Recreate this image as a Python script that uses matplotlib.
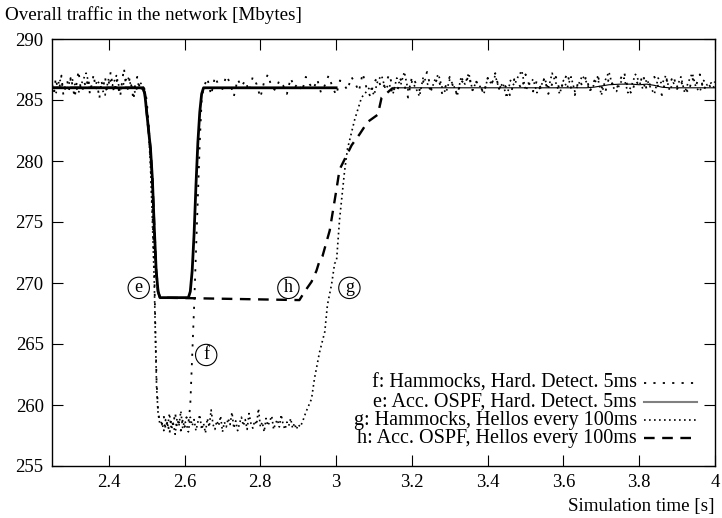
import numpy as np
import matplotlib
matplotlib.use("Agg")
import matplotlib.pyplot as plt
from matplotlib.lines import Line2D

plt.rcParams['font.family'] = ['Liberation Serif', 'DejaVu Serif']

# ---------------- data ----------------
x_ticks = [2.4, 2.6, 2.8, 3.0, 3.2, 3.4, 3.6, 3.8, 4.0]
x_tick_labels = ["2.4", "2.6", "2.8", "3", "3.2", "3.4", "3.6", "3.8", "4"]
y_ticks = [255, 260, 265, 270, 275, 280, 285, 290]

legend_labels = ["f: Hammocks, Hard. Detect. 5ms",
                 "e: Acc. OSPF, Hard. Detect. 5ms",
                 "g: Hammocks, Hellos every 100ms",
                 "h: Acc. OSPF, Hellos every 100ms"]

# e: Acc. OSPF, hard detect (smooth)
e_x = [2.25, 2.49, 2.495, 2.5, 2.505, 2.51, 2.515, 2.52, 2.525, 2.53, 2.535,
       2.61, 2.615, 2.62, 2.625, 2.63, 2.635, 2.64, 2.645, 2.65, 3.0]
e_y = [286.0, 286.0, 285.5, 284.0, 282.5, 281.0, 278.5, 274.5, 271.0, 269.3, 268.8,
       268.8, 269.3, 271.0, 274.0, 278.0, 281.5, 284.0, 285.5, 286.0, 286.0]

# h: Acc. OSPF, hellos
h_x = [2.25, 2.49, 2.495, 2.5, 2.505, 2.51, 2.515, 2.52, 2.525, 2.53, 2.535,
       2.903, 2.917, 2.935, 2.948, 2.956, 2.964, 2.983, 3.001, 3.009, 3.041,
       3.062, 3.083, 3.11, 3.12, 3.15]
h_y = [286.0, 286.0, 285.5, 284.0, 282.5, 281.0, 278.5, 274.5, 271.0, 269.3, 268.8,
       268.6, 269.3, 270.1, 271.0, 271.8, 272.2, 274.3, 277.7, 279.3, 281.3,
       282.2, 283.2, 283.8, 285.2, 286.0]
h_tail_x = [3.15, 3.66, 3.68, 3.70, 3.72, 3.75, 3.78, 3.80, 3.82, 3.84, 3.86, 3.88, 4.0]
h_tail_y = [286.0, 286.0, 286.05, 286.15, 286.25, 286.3, 286.3, 286.25, 286.3, 286.2, 286.05, 286.0, 286.0]

# f: Hammocks, hard detect (noisy)
f_pre_start, f_pre_step = 2.25, 0.005
f_pre = [286.3, 285.6, 286.8, 285.9, 286.1, 287.0, 285.4, 286.2, 286.6, 285.8,
         286.9, 286.0, 285.2, 286.4, 287.4, 286.1, 285.7, 286.5, 286.0, 286.8,
         285.5, 286.3, 287.1, 285.9, 286.2, 285.1, 286.6, 286.0, 286.9, 285.8,
         286.4, 287.3, 286.1, 285.6, 286.7, 286.0, 285.3, 286.5, 287.6, 286.2,
         285.9, 286.8, 286.1, 285.0, 286.4, 286.9, 286.2, 285.7, 286.3]
f_drop_x = [2.495, 2.5, 2.505, 2.51, 2.515, 2.52, 2.523, 2.526, 2.53, 2.535]
f_drop_y = [285.8, 285.0, 283.0, 280.0, 276.0, 271.0, 266.0, 262.0, 259.5, 258.5]
f_floor_start, f_floor_step = 2.54, 0.005
f_floor = [258.4, 259.1, 258.0, 258.7, 257.6, 258.9, 258.3, 259.4, 258.1, 258.6,
           257.9, 258.8, 258.2, 259.0, 258.5]
f_rise_x = [2.615, 2.62, 2.625, 2.63, 2.635, 2.64, 2.645]
f_rise_y = [260.0, 264.0, 268.0, 272.5, 277.0, 281.5, 285.0]
f_post_start, f_post_step = 2.65, 0.01
f_post = [286.0, 286.8, 285.4, 286.9, 286.2, 285.9, 287.0, 286.4, 285.3, 286.7,
          286.1, 286.6, 285.7, 286.9, 286.3, 285.2, 286.5, 287.1, 286.0, 285.8,
          286.6, 286.2, 285.5, 286.8, 286.0, 286.4, 285.7, 286.9, 286.3, 285.9,
          286.7, 285.6, 286.2, 287.0, 286.1, 285.4, 286.6, 286.3, 285.8, 286.9,
          286.4, 285.7, 287.2, 286.0, 285.3, 286.5, 286.8, 285.9, 286.3, 287.1,
          286.0, 285.6, 286.7, 286.2, 285.2, 286.9, 286.4, 285.8, 286.5, 287.3,
          285.9, 286.4, 286.8, 285.5, 286.2, 286.9, 286.0, 285.4, 286.6, 286.3,
          287.0, 285.8, 286.5, 286.1, 285.6, 286.8, 286.3, 287.2, 285.9, 286.4,
          286.0, 285.3, 286.7, 286.4, 285.9, 287.1, 286.2, 285.7, 286.6, 286.0,
          286.8, 285.5, 286.3, 286.9, 285.8, 286.4, 287.2, 286.0, 285.4, 286.6,
          286.2, 286.9, 285.7, 286.5, 287.0, 286.1, 285.6, 286.8, 286.3, 285.9,
          286.7, 287.3, 286.0, 285.5, 286.6, 286.2, 287.1, 285.8, 286.4, 286.9,
          286.1, 285.4, 286.7, 286.3, 287.0, 285.9, 286.5, 286.0, 285.6, 286.8,
          286.2, 287.1, 285.8, 286.4, 286.0, 286.5]

# g: Hammocks, hellos (noisy)
g_pre_start, g_pre_step = 2.25, 0.01
g_pre = [286.2, 285.5, 286.7, 286.0, 285.8, 286.9, 286.3, 285.6, 286.5, 287.2,
         286.1, 285.9, 286.6, 286.0, 285.4, 286.8, 286.2, 287.0, 285.7, 286.4,
         286.9, 286.1, 285.6, 286.5, 286.2]
g_drop_x = [2.495, 2.5, 2.505, 2.51, 2.515, 2.52, 2.523, 2.526, 2.53, 2.535]
g_drop_y = [285.6, 284.5, 282.5, 279.5, 275.0, 270.0, 265.5, 261.5, 259.3, 258.4]
g_floor_start, g_floor_step = 2.54, 0.005
g_floor = [258.6, 257.9, 258.8, 258.2, 259.3, 258.0, 258.5, 257.6, 258.9, 258.3,
           259.5, 258.1, 258.7, 258.4, 257.8, 259.0, 258.3, 258.8, 257.9, 258.6,
           259.2, 258.0, 258.5, 257.7, 258.9, 258.2, 259.6, 258.4, 258.0, 258.7,
           258.3, 259.1, 257.8, 258.6, 258.2, 258.9, 258.4, 259.4, 258.1, 258.7,
           257.9, 258.5, 259.0, 258.3, 258.8, 258.0, 259.3, 258.5, 258.1, 258.7,
           258.4, 259.7, 258.2, 258.6, 257.8, 258.9, 258.3, 258.7, 259.1, 258.0,
           258.5, 258.8, 258.2, 259.2, 258.4, 258.0, 258.6, 258.3, 258.9, 258.1,
           258.5, 258.0, 258.4, 258.2]
g_rise_x = [2.911, 2.92, 2.935, 2.943, 2.956, 2.97, 2.977, 2.988, 2.996, 3.001,
            3.009, 3.022, 3.03, 3.049, 3.067, 3.083]
g_rise_y = [258.6, 259.4, 260.5, 262.2, 264.3, 266.0, 268.2, 269.9, 271.6, 271.8,
            275.2, 279.1, 281.0, 283.4, 285.2, 285.8]
g_post_start, g_post_step = 3.09, 0.01
g_post = [286.1, 285.4, 286.6, 287.0, 285.9, 286.3, 285.5, 286.8, 286.2, 287.3,
          285.8, 286.5, 286.0, 285.3, 286.9, 286.4, 285.7, 286.6, 287.1, 286.0,
          285.6, 286.7, 286.2, 285.4, 286.9, 286.3, 287.2, 285.8, 286.5, 286.1,
          285.5, 286.8, 286.3, 287.0, 285.9, 286.4, 285.2, 286.6, 286.2, 286.9,
          287.4, 285.8, 286.3, 286.7, 285.6, 286.1, 286.8, 285.9, 287.2, 286.4,
          285.5, 286.6, 286.0, 286.9, 285.7, 286.3, 287.0, 286.5, 285.8, 286.2,
          286.9, 285.4, 286.6, 287.3, 286.1, 285.7, 286.4, 286.8, 285.6, 286.2,
          287.1, 286.5, 285.9, 286.7, 286.0, 285.5, 286.8, 286.3, 287.0, 285.8,
          286.4, 286.1, 286.9, 285.6, 286.5, 287.2, 286.0, 285.7, 286.6, 286.2,
          286.4, 285.9]

# curve labels (circled letters)
curve_tags = ["e", "f", "h", "g"]
curve_tag_x = [2.479, 2.657, 2.874, 3.035]
curve_tag_y = [269.6, 264.1, 269.6, 269.6]


def grid(start, step, n):
    return list(np.round(start + step * np.arange(n), 4))


f_x = (grid(f_pre_start, f_pre_step, len(f_pre)) + f_drop_x
       + grid(f_floor_start, f_floor_step, len(f_floor)) + f_rise_x
       + grid(f_post_start, f_post_step, len(f_post)))
f_y = f_pre + f_drop_y + f_floor + f_rise_y + f_post

g_x = (grid(g_pre_start, g_pre_step, len(g_pre)) + g_drop_x
       + grid(g_floor_start, g_floor_step, len(g_floor)) + g_rise_x
       + grid(g_post_start, g_post_step, len(g_post)))
g_y = g_pre + g_drop_y + g_floor + g_rise_y + g_post

# ---------------- figure ----------------
W, H = 722, 518
fig = plt.figure(figsize=(W / 100, H / 100), dpi=100)
L, R, T, B = 52, 715, 39, 466
ax = fig.add_axes([L / W, 1 - B / H, (R - L) / W, (B - T) / H])

f_style = dict(color='black', lw=1.3, linestyle=(0, (1.2, 4.0)))
e_style = dict(color='black', lw=2.0, linestyle='-')
g_style = dict(color='black', lw=1.2, linestyle=(0, (1.0, 2.0)))
h_style = dict(color='black', lw=1.7, linestyle=(0, (4.5, 3.2)))

ax.plot(f_x, f_y, **f_style)
ax.plot(g_x, g_y, **g_style)
ax.plot(h_x, h_y, **h_style)
ax.plot(h_tail_x, h_tail_y, color='black', lw=0.8)
ax.plot(e_x, e_y, **e_style)

for t, tx, ty in zip(curve_tags, curve_tag_x, curve_tag_y):
    ax.text(tx, ty, t, ha='center', va='center', fontsize=13,
            bbox=dict(boxstyle='circle,pad=0.12', fc='white', ec='black', lw=0.8))

ax.set_xlim(2.25, 4.0)
ax.set_ylim(255, 290)
ax.set_xticks(x_ticks)
ax.set_xticklabels(x_tick_labels)
ax.set_yticks(y_ticks)
ax.tick_params(direction='in', length=8, width=0.8, top=True, right=True,
               labelsize=13.5, pad=6, colors='black')
for s in ax.spines.values():
    s.set_linewidth(1.0)

fig.text(5 / W, 1 - 15 / H, "Overall traffic in the network [Mbytes]",
         fontsize=13.7, ha='left', va='center')
fig.text(R / W, 1 - 507 / H, "Simulation time [s]", fontsize=13.7,
         ha='right', va='center')

# gnuplot style key
rows = [383, 402, 420, 438]
styles = [f_style, dict(color='#808080', lw=1.5, linestyle='-'), g_style, h_style]
for lab, py, st in zip(legend_labels, rows, styles):
    fig.text(637 / W, 1 - py / H, lab, fontsize=14.5, ha='right', va='center')
    fig.add_artist(Line2D([644 / W, 697 / W], [1 - py / H, 1 - py / H],
                          transform=fig.transFigure, **st))

fig.savefig("out.png", dpi=100)
